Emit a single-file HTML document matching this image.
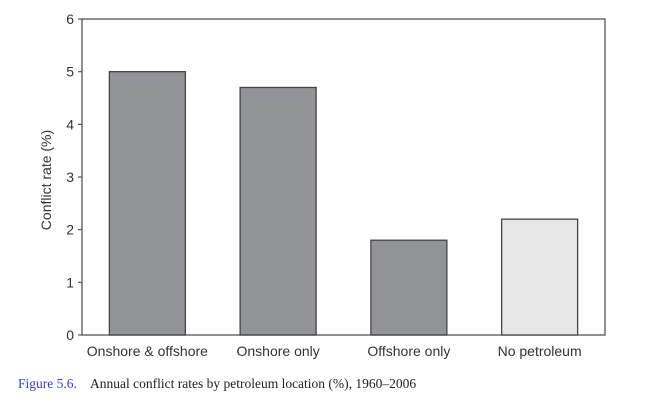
<!DOCTYPE html>
<html><head><meta charset="utf-8"><style>
body{margin:0;background:#fff;width:652px;height:415px;overflow:hidden}
svg{display:block}
</style></head><body>
<svg width="652" height="415" font-family="Liberation Sans, sans-serif">
<g id="chart"></g>
<text x="18" y="388" font-family="Liberation Serif, serif" font-size="13.5" fill="#3a3adc">Figure 5.6.</text>
<text x="90" y="388" font-family="Liberation Serif, serif" font-size="13.5" fill="#222">Annual conflict rates by petroleum location (%), 1960–2006</text>
</svg>
<script>
const categories = ["Onshore & offshore","Onshore only","Offshore only","No petroleum"];
const values = [5.0, 4.7, 1.8, 2.2];
const fills = ["#929396","#929396","#929396","#e6e6e7"];
const yTicks = [0,1,2,3,4,5,6];
const X0=82, X1=605, Y0=335, Y1=19, YMAX=6;
const y = v => Y0 - (v/YMAX)*(Y0-Y1);
const bw = (X1-X0)/categories.length;
const xc = i => X0 + bw*(i+0.5);
const NS="http://www.w3.org/2000/svg";
const g=document.getElementById('chart');
function mk(t,a){const e=document.createElementNS(NS,t);for(const k in a)e.setAttribute(k,a[k]);g.appendChild(e);return e;}
const frame=mk('rect',{x:X0,y:Y1,width:X1-X0,height:Y0-Y1,fill:'none',stroke:'#555','stroke-width':1.3});


yTicks.forEach(t=>{
  const l=mk('line',{x1:X0-4,x2:X0,y1:y(t),y2:y(t),stroke:'#555','stroke-width':1.2});
  
  
  const tx=mk('text',{x:X0-8,y:y(t)+5,'text-anchor':'end','font-size':14,fill:'#333'});
  tx.textContent=t;
  
  
});
categories.forEach((c,i)=>{
  const r=mk('rect',{x:xc(i)-38,y:y(values[i]),width:76,height:Y0-y(values[i]),fill:fills[i],stroke:'#444','stroke-width':1.3});
  
  
  const tx=mk('text',{x:xc(i),y:356,'text-anchor':'middle','font-size':14,fill:'#333'});
  tx.textContent=c;
  
  
});
const yt=mk('text',{x:51,y:(Y0+Y1)/2+3,'text-anchor':'middle','font-size':14,fill:'#333',transform:'rotate(-90 51 '+((Y0+Y1)/2+3)+')'});
yt.textContent='Conflict rate (%)';


</script>
</body></html>
